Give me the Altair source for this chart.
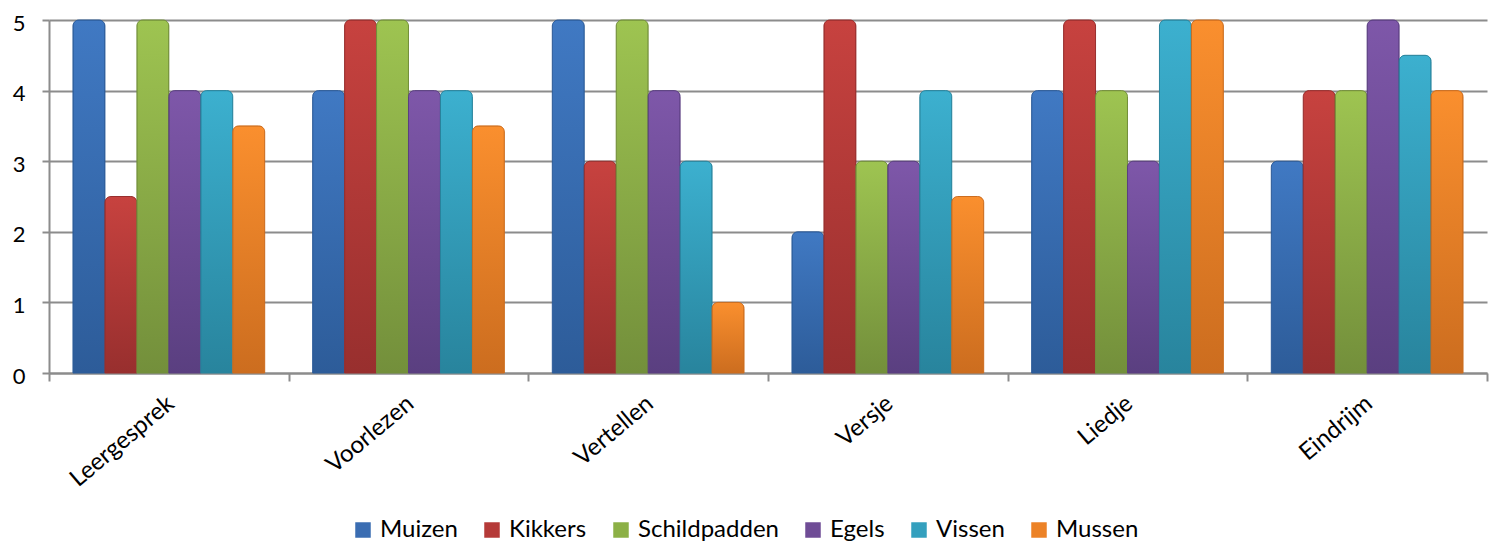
import altair as alt
import pandas as pd

categories = ["Leergesprek", "Voorlezen", "Vertellen", "Versje", "Liedje", "Eindrijm"]
series = ["Muizen", "Kikkers", "Schildpadden", "Egels", "Vissen", "Mussen"]
muizen = [5, 4, 5, 2, 4, 3]
kikkers = [2.5, 5, 3, 5, 5, 4]
schildpadden = [5, 5, 5, 3, 4, 4]
egels = [4, 4, 4, 3, 3, 5]
vissen = [4, 4, 3, 4, 5, 4.5]
mussen = [3.5, 3.5, 1, 2.5, 5, 4]

mid_colors = ["#3A6DB2", "#B53A38", "#8CB046", "#6F4C96", "#34A0BE", "#EC8227"]
top_colors = ["#4079C3", "#C7423F", "#9EC451", "#7E57A9", "#3CB0CF", "#FA8F2E"]
bottom_colors = ["#2D5C99", "#982F2E", "#738F3B", "#5A3F80", "#28849D", "#CC6D1F"]

values = [muizen, kikkers, schildpadden, egels, vissen, mussen]
rows = []
for s, vals in zip(series, values):
    for c, v in zip(categories, vals):
        rows.append({"cat": c, "series": s, "value": v})
df = pd.DataFrame(rows)

FONT = "Lato"
GRAY = "#8C8C8C"

x_enc = alt.X(
    "cat:N",
    sort=categories,
    scale=alt.Scale(domain=categories, paddingInner=0, paddingOuter=0),
    axis=alt.Axis(
        title=None, labelAngle=-40, labelAlign="right", labelBaseline="top",
        labelFontSize=24, labelFont=FONT, labelColor="black", labelPadding=10,
        labelOffset=-6,
        domainColor=GRAY, domainWidth=2, tickColor=GRAY, tickWidth=2, tickSize=8,
        tickBand="extent", grid=False,
    ),
)
xo_enc = alt.XOffset(
    "series:N", sort=series,
    scale=alt.Scale(domain=series, paddingInner=0, paddingOuter=0.75),
)
y_enc = alt.Y(
    "value:Q",
    scale=alt.Scale(domain=[0, 5], nice=False),
    axis=alt.Axis(
        title=None, values=[0, 1, 2, 3, 4, 5], format="d",
        labelFontSize=22, labelFont=FONT, labelColor="black", labelPadding=17,
        labelOffset=3,
        domainColor=GRAY, domainWidth=2, tickColor=GRAY, tickWidth=2, tickSize=7,
        gridColor=GRAY, gridWidth=2,
    ),
)

base = alt.Chart(df).mark_bar(
    cornerRadiusTopLeft=6, cornerRadiusTopRight=6
).encode(
    x=x_enc, xOffset=xo_enc, y=y_enc,
    color=alt.Color(
        "series:N", sort=series,
        scale=alt.Scale(domain=series, range=mid_colors),
        legend=alt.Legend(
            title=None, orient="none", legendX=302, legendY=498,
            direction="horizontal", symbolType="square", symbolSize=240,
            symbolStrokeWidth=0, labelFontSize=24, labelFont=FONT,
            labelColor="black", columnPadding=22, labelOffset=5,
        ),
    ),
)

layers = [base]
for s, t, b in zip(series, top_colors, bottom_colors):
    grad = alt.Gradient(
        gradient="linear", x1=0, x2=0, y1=0, y2=1,
        stops=[alt.GradientStop(color=t, offset=0), alt.GradientStop(color=b, offset=1)],
    )
    layers.append(
        alt.Chart(df).transform_filter(alt.datum.series == s).mark_bar(
            color=grad, stroke=b, strokeWidth=1,
            cornerRadiusTopLeft=6, cornerRadiusTopRight=6,
        ).encode(x=x_enc, xOffset=xo_enc, y=y_enc)
    )

chart = alt.layer(*layers).properties(
    width=1438, height=353,
    autosize=alt.AutoSizeParams(type="none"),
    padding={"left": 41, "top": 12, "right": 3, "bottom": 170},
).configure_view(stroke=None).configure_axis(labelFont=FONT)

chart.save("out.html", embed_options={"renderer": "svg", "actions": False})
